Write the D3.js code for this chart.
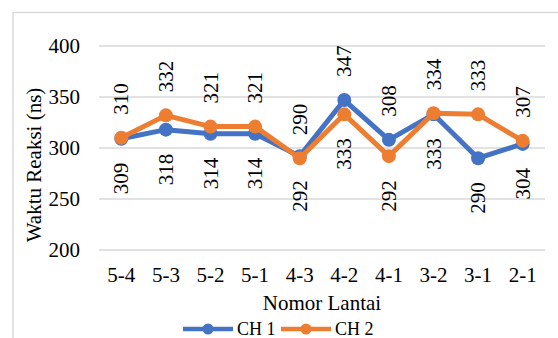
<!DOCTYPE html>
<html>
<head>
<meta charset="utf-8">
<script src="https://cdn.jsdelivr.net/npm/d3@7"></script>
</head>
<body style="margin:0; background:#fff">
<div id="chart"></div>
<script>
// chart data
const floors = ["5-4", "5-3", "5-2", "5-1", "4-3", "4-2", "4-1", "3-2", "3-1", "2-1"];
const ch1 = [309, 318, 314, 314, 292, 347, 308, 333, 290, 304];
const ch2 = [310, 332, 321, 321, 290, 333, 292, 334, 333, 307];
const yTicks = [200, 250, 300, 350, 400];
const seriesNames = ["CH 1", "CH 2"];
const colors = ["#4472C4", "#ED7D31"];

const W = 558, H = 338;
const margin = {top: 46, right: 13, bottom: 88, left: 99};
const width = W - margin.left - margin.right,
      height = H - margin.top - margin.bottom;
const fontSize = "21px";

const svgRoot = d3.select("#chart").append("svg")
    .attr("width", W).attr("height", H);

// chart frame (runs off the right and bottom edge)
svgRoot.append("rect")
    .attr("x", 13).attr("y", 12.5)
    .attr("width", 600).attr("height", 400)
    .attr("fill", "none").attr("stroke", "#d9d9d9").attr("stroke-width", 1.5);

const svg = svgRoot.append("g")
    .attr("transform", `translate(${margin.left},${margin.top})`);

const x = d3.scaleBand().domain(floors).range([0, width]);
const y = d3.scaleLinear().domain([200, 400]).range([height, 0]);
const cx = d => x(d) + x.bandwidth() / 2;

// gridlines
svg.append("g")
  .selectAll("line")
  .data(yTicks)
  .join("line")
    .attr("x1", 0).attr("x2", width)
    .attr("y1", d => y(d)).attr("y2", d => y(d))
    .attr("stroke", "#d9d9d9").attr("stroke-width", 1.5);

// y axis labels
const yAxis = svg.append("g")
    .call(d3.axisLeft(y).tickValues(yTicks).tickSize(0).tickPadding(19));
yAxis.select(".domain").remove();

// x axis labels
const xAxis = svg.append("g")
    .attr("transform", `translate(0,${height})`)
    .call(d3.axisBottom(x).tickSize(0).tickPadding(17));
xAxis.select(".domain").remove();

// axis titles
svgRoot.append("text")
    .attr("transform", `translate(41,165) rotate(-90)`)
    .attr("text-anchor", "middle")
    .text("Waktu Reaksi (ns)");
svgRoot.append("text")
    .attr("x", margin.left + width / 2).attr("y", 310)
    .attr("text-anchor", "middle")
    .text("Nomor Lantai");

// lines and markers
const series = [ch1, ch2];
const line = d3.line().x((d, i) => cx(floors[i])).y(d => y(d));
series.forEach((vals, s) => {
  svg.append("path")
      .datum(vals)
      .attr("d", line)
      .attr("fill", "none")
      .attr("stroke", colors[s])
      .attr("stroke-width", 5)
      .attr("stroke-linejoin", "round");
  svg.append("g")
    .selectAll("circle")
    .data(vals)
    .join("circle")
      .attr("cx", (d, i) => cx(floors[i]))
      .attr("cy", d => y(d))
      .attr("r", 7)
      .attr("fill", colors[s]);
});

// data labels, rotated; CH 2 above unless CH 1 is clearly higher
const isAbove = (s, i) => {
  const ch1Up = ch1[i] > ch2[i] + 5;
  return s === 0 ? ch1Up : !ch1Up;
};
const labels = svg.append("g");
series.forEach((vals, s) => {
  labels.append("g")
    .selectAll("text")
    .data(vals)
    .join("text")
      .attr("transform", (d, i) =>
        `translate(${cx(floors[i]) + 7},${y(d) + (isAbove(s, i) ? -23 : 24)}) rotate(-90)`)
      .attr("text-anchor", (d, i) => isAbove(s, i) ? "start" : "end")
      .text(d => d);
});

// legend
const legend = svgRoot.append("g").attr("class", "legend").attr("transform", "translate(183,329)");
seriesNames.forEach((name, s) => {
  const g = legend.append("g").attr("transform", `translate(${s * 98},0)`);
  g.append("line").attr("x1", 0).attr("x2", 50).attr("y1", 0).attr("y2", 0)
      .attr("stroke", colors[s]).attr("stroke-width", 4.5);
  g.append("circle").attr("cx", 25).attr("cy", 0).attr("r", 5.5).attr("fill", colors[s]);
  g.append("text").attr("x", 54).attr("y", 6).text(name);
});

// same font on every text
svgRoot.selectAll("g").attr("font-family", null).attr("font-size", null);
svgRoot.selectAll("text")
    .style("font-family", "'Liberation Serif'")
    .style("font-size", fontSize)
    .style("fill", "#000");
legend.selectAll("text").style("font-size", "18px");
</script>
</body>
</html>
